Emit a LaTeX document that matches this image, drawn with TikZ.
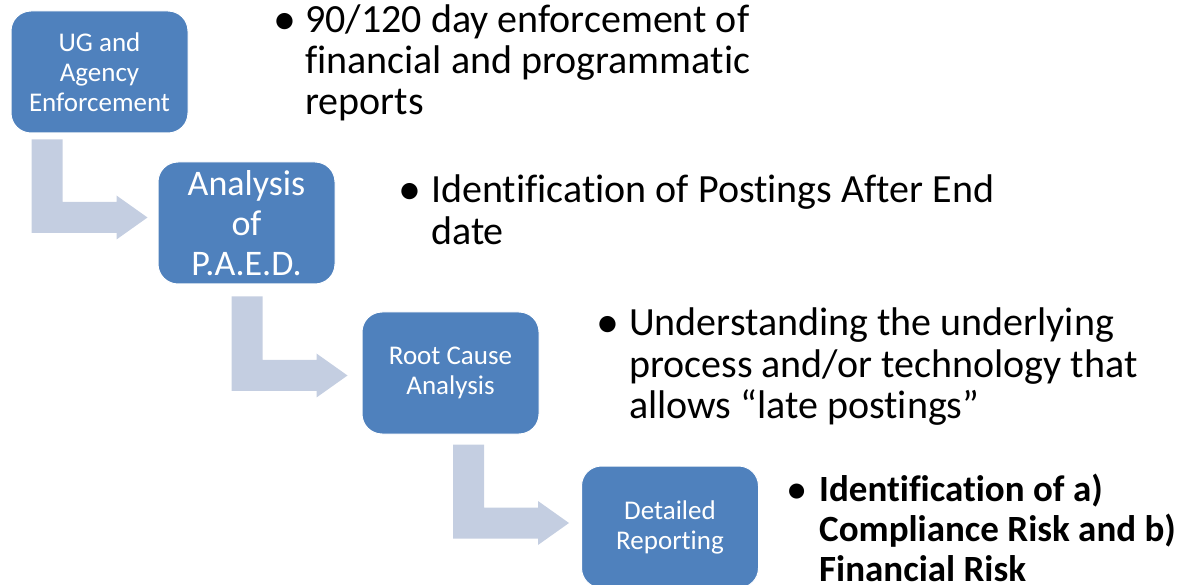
\documentclass[tikz,border=0pt]{standalone}
\usepackage{fontspec}
\setmainfont{Carlito}[Ligatures=NoCommon]
\usetikzlibrary{calc}
\definecolor{boxblue}{RGB}{79,129,189}
\definecolor{arrowfill}{RGB}{196,206,225}
\newcommand\bigdot{\raisebox{-2pt}{\scalebox{1.15}{•}}}
\tikzset{
  stepbox/.style={rectangle, rounded corners=20pt, fill=boxblue, draw=white, line width=1pt,
    minimum width=177pt, minimum height=122pt, text=white, align=center, inner sep=0pt,
    font=\fontsize{27}{30}\selectfont},
  bigbox/.style={stepbox, font=\fontsize{36}{40}\selectfont},
  bullettext/.style={anchor=base west, inner sep=0pt, text=black},
  bulletdot/.style={anchor=base, inner sep=0pt, text=black}
}
% bent block arrow: #1 source node, #2 tip coordinate, #3 gap below source
\newcommand\bentarrow[3]{%
  \fill[arrowfill] let \p1=(#1.south), \p2=(#2) in
    (\x2-116pt,\y1-#3) -- (\x2-85pt,\y1-#3) -- (\x2-85pt,\y2+15.5pt)
    -- (\x2-31pt,\y2+15.5pt) -- (\x2-31pt,\y2+22pt) -- (\x2,\y2)
    -- (\x2-31pt,\y2-22pt) -- (\x2-31pt,\y2-15.5pt) -- (\x2-116pt,\y2-15.5pt) -- cycle;}
\begin{document}
\begin{tikzpicture}[x=1pt,y=-1pt]
\useasboundingbox (0,0) rectangle (1184,585);
\node[stepbox] (b1) at (99.5,72) {UG and\\Agency\\Enforcement};
\node[bigbox] (b2) at (246.5,223) {Analysis\\of\\P.A.E.D.};
\node[stepbox] (b3) at (450.5,373) {Root Cause\\Analysis};
\node[stepbox] (b4) at (670,527) {Detailed\\Reporting};

\coordinate (t1) at ($(b2.west)+(-10,-5.5)$);
\coordinate (t2) at ($(b3.west)+(-14,2.5)$);
\coordinate (t3) at ($(b4.west)+(-12,-4)$);
\bentarrow{b1}{t1}{6pt}
\bentarrow{b2}{t2}{12pt}
\bentarrow{b3}{t3}{10pt}

\node[bulletdot, font=\fontsize{40}{41}\selectfont] (d1) at (285,33) {\bigdot};
\node[bullettext, font=\fontsize{40}{41}\selectfont] (x1) at (305,33)
  {\vtop{\hbox{90/120 day enforcement of}\hbox{financial and programmatic}\hbox{reports}}};

\node[bulletdot, font=\fontsize{40}{42}\selectfont] (d2) at (410,203) {\bigdot};
\node[bullettext, font=\fontsize{40}{42}\selectfont] (x2) at (431,203)
  {\vtop{\hbox{Identification of Postings After End}\hbox{date}}};

\node[bulletdot, font=\fontsize{40}{41.5}\selectfont] (d3) at (608,336) {\bigdot};
\node[bullettext, font=\fontsize{40}{41.5}\selectfont] (x3) at (629,336)
  {\vtop{\hbox{Understanding the underlying}\hbox{process and/or technology that}\hbox{allows “late postings”}}};

\node[bulletdot, font=\fontsize{37}{40}\selectfont] (d4) at (797,501) {\bigdot};
\node[bullettext, font=\bfseries\fontsize{37}{40}\selectfont] (x4) at (819,501)
  {\vtop{\hbox{Identification of a)}\hbox{Compliance Risk and b)}\hbox{Financial Risk}}};
\end{tikzpicture}
\end{document}
